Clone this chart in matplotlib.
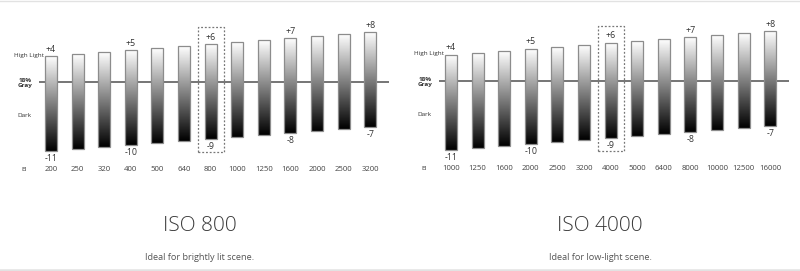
import numpy as np
import matplotlib
matplotlib.use("Agg")
import matplotlib.pyplot as plt
from matplotlib.patches import Rectangle
from matplotlib.lines import Line2D

# ---------------- data ----------------
ei_left = ['200', '250', '320', '400', '500', '640', '800', '1000', '1250',
           '1600', '2000', '2500', '3200']
ei_right = ['1000', '1250', '1600', '2000', '2500', '3200', '4000', '5000',
            '6400', '8000', '10000', '12500', '16000']
highlight = [4, 4.33, 4.67, 5, 5.33, 5.67, 6, 6.33, 6.67, 7, 7.33, 7.67, 8]
dark = [-11, -10.67, -10.33, -10, -9.67, -9.33, -9, -8.67, -8.33, -8,
        -7.67, -7.33, -7]
top_labels = ['+4', '', '', '+5', '', '', '+6', '', '', '+7', '', '', '+8']
bottom_labels = ['-11', '', '', '-10', '', '', '-9', '', '', '-8', '', '', '-7']
selected = 6
titles = ['ISO 800', 'ISO 4000']
subtitles = ['Ideal for brightly lit scene.', 'Ideal for low-light scene.']
row_labels = ['High Light', '18%\nGray', 'Dark', 'EI']

W, H = 800, 271
fig = plt.figure(figsize=(W / 100, H / 100), dpi=100)
fig.patch.set_facecolor('white')

FONT = ['Open Sans', 'DejaVu Sans']
PX_X = 26.6   # pixels per bar slot
PX_Y = 6.0    # pixels per stop

grad = np.linspace(1.0, 0.0, 256).reshape(-1, 1)


def draw_panel(ax, ei):
    # pixel frame: x 0..400, y 0..180 (top=0); bar 0 centre at x=51, gray line at y=81.7
    ax.set_xlim(-51 / PX_X, (400 - 51) / PX_X)
    ax.set_ylim((81.7 - 180) / PX_Y, 81.7 / PX_Y)
    ax.axis('off')
    n = len(ei)
    bw = 12 / PX_X
    # midline
    ax.plot([-12 / PX_X, (389 - 51) / PX_X], [0, 0], color='#6a6a6a', lw=1.3,
            zorder=1, solid_capstyle='butt')
    for i in range(n):
        top = highlight[i] + 0.25
        bot = dark[i] - 0.55
        ax.imshow(grad, cmap='gray', vmin=0, vmax=1, aspect='auto',
                  extent=(i - bw / 2, i + bw / 2, bot, top), zorder=2,
                  interpolation='bilinear')
        ax.add_patch(Rectangle((i - bw / 2, bot), bw, top - bot, fill=False,
                               edgecolor='#8c8c8c', lw=0.9, zorder=3))
        if top_labels[i]:
            ax.text(i, top + 1.2, top_labels[i], ha='center', va='center',
                    fontsize=6.3, color='#333333', family=FONT)
        if bottom_labels[i]:
            ax.text(i, bot - 1.25, bottom_labels[i], ha='center', va='center',
                    fontsize=6.3, color='#333333', family=FONT)
        ax.text(i, -14.6, ei[i], ha='center', va='center', fontsize=5.6,
                color='#444444', family=FONT)
    # dashed selection box
    i = selected
    top = highlight[i] + 0.25
    bot = dark[i] - 0.55
    bx = 26 / PX_X
    ax.add_patch(Rectangle((i - bx / 2, bot - 13 / PX_Y), bx,
                           (top - bot) + 30.5 / PX_Y, fill=False,
                           edgecolor='#777777', lw=0.9, ls=(0, (1.5, 1.5)),
                           zorder=4))
    # row labels
    ax.text(-22 / PX_X, (81.7 - 55) / PX_Y, row_labels[0], ha='center',
            va='center', fontsize=4.6, color='#333333', family=FONT)
    ax.text(-26 / PX_X, (81.7 - 83) / PX_Y, row_labels[1], ha='center',
            va='center', fontsize=4.6, color='#333333', family=FONT,
            fontweight='bold', linespacing=1.1)
    ax.text(-26.5 / PX_X, (81.7 - 115.7) / PX_Y, row_labels[2], ha='center',
            va='center', fontsize=4.6, color='#333333', family=FONT)
    ax.text(-27 / PX_X, -14.6, row_labels[3], ha='center', va='center',
            fontsize=4.6, color='#333333', family=FONT)


ax1 = fig.add_axes([0, 1 - 180 / H, 0.5, 180 / H])
draw_panel(ax1, ei_left)
ax2 = fig.add_axes([0.5, 1 - 179 / H, 0.5, 180 / H])
draw_panel(ax2, ei_right)

for k, cx in enumerate([200, 600]):
    fig.text(cx / W, 1 - 226 / H, titles[k], ha='center', va='center',
             fontsize=15, color='#3a3a3a', family=['Open Sans', 'DejaVu Sans'],
             fontweight=300)
    fig.text(cx / W, 1 - 257 / H, subtitles[k], ha='center', va='center',
             fontsize=6.6, color='#555555', family=FONT)

# thin page borders
fig.add_artist(Line2D([0, 1], [1 - 0.5 / H, 1 - 0.5 / H], color='#e2e2e2',
                      lw=1.0, transform=fig.transFigure))
fig.add_artist(Line2D([0, 1], [1.2 / H, 1.2 / H], color='#e2e2e2', lw=1.8,
                      transform=fig.transFigure))

fig.savefig('out.png', dpi=100, facecolor='white')
